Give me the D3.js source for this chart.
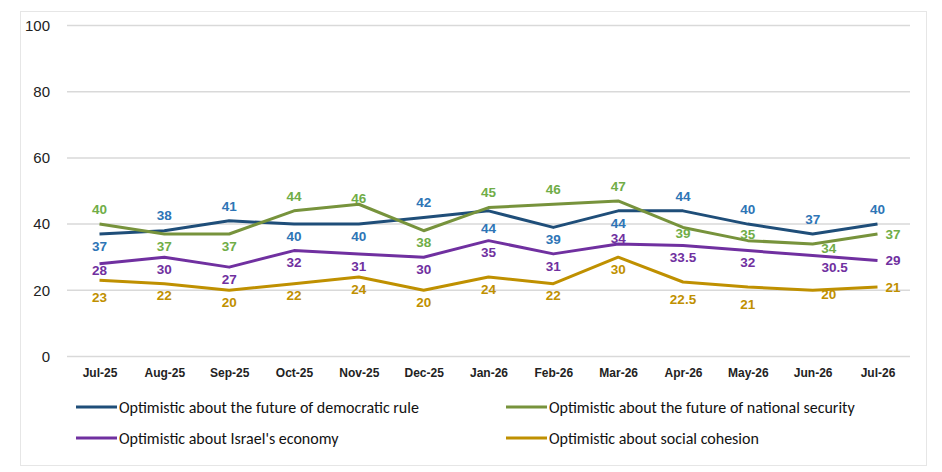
<!DOCTYPE html>
<html>
<head>
<meta charset="utf-8">
<script src="https://cdn.jsdelivr.net/npm/d3@7"></script>
<style>
  body { margin: 0; background: #fff; }
  text { font-family: Calibri, Carlito, "Liberation Sans Narrow", "Liberation Sans", sans-serif; }
</style>
</head>
<body>
<div id="chart"></div>
<script>
const months = ["Jul-25","Aug-25","Sep-25","Oct-25","Nov-25","Dec-25","Jan-26","Feb-26","Mar-26","Apr-26","May-26","Jun-26","Jul-26"];
const yTicks = [0, 20, 40, 60, 80, 100];

const democracy = [37, 38, 41, 40, 40, 42, 44, 39, 44, 44, 40, 37, 40];
const security  = [40, 37, 37, 44, 46, 38, 45, 46, 47, 39, 35, 34, 37];
const economy   = [28, 30, 27, 32, 31, 30, 35, 31, 34, 33.5, 32, 30.5, 29];
const cohesion  = [23, 22, 20, 22, 24, 20, 24, 22, 30, 22.5, 21, 20, 21];

// label placement per point (as the labels sit in the original):
// a above, o on the line, s just below, b below, d further below,
// e below-right, f below further right, r right of the point
const democracyPos = ["b","a","a","b","b","a","d","b","b","a","a","a","a"];
const securityPos  = ["a","b","b","a","o","b","a","a","a","s","o","e","r"];
const economyPos   = ["s","b","b","b","b","b","b","b","o","b","b","f","r"];
const cohesionPos  = ["d","b","b","b","b","b","b","b","b","d","d","e","r"];

const placement = {
  a: [0, -15], o: [0, -6], s: [0, 6], b: [0, 12], d: [0, 17],
  e: [16, 4], f: [22, 12], r: [8, 0]
};

const seriesNames = [
  "Optimistic about the future of democratic rule",
  "Optimistic about the future of national security",
  "Optimistic about Israel's economy",
  "Optimistic about social cohesion"
];

const series = [
  {name: seriesNames[0], values: democracy, pos: democracyPos, line: "#1F4E79", label: "#2E75B6"},
  {name: seriesNames[1], values: security,  pos: securityPos,  line: "#77933C", label: "#70AD47"},
  {name: seriesNames[2], values: economy,   pos: economyPos,   line: "#7030A0", label: "#7030A0"},
  {name: seriesNames[3], values: cohesion,  pos: cohesionPos,  line: "#BF9000", label: "#BF9000"}
];

function makeChart() {
  const w = 942, h = 472;
  const svg = d3.select("#chart").append("svg")
    .attr("width", w).attr("height", h);

  svg.append("rect")
    .attr("x", 20.5).attr("y", 11.5)
    .attr("width", 906).attr("height", 454)
    .attr("fill", "#fff").attr("stroke", "#E6E6E6");

  const x = d3.scalePoint().domain(months).range([99.5, 877.5]);
  const y = d3.scaleLinear().domain([0, 100]).range([356.5, 25.5]);

  // gridlines
  svg.append("g").selectAll("line").data(yTicks).enter().append("line")
    .attr("x1", 67).attr("x2", 910)
    .attr("y1", d => y(d)).attr("y2", d => y(d))
    .attr("stroke", "#D9D9D9").attr("stroke-width", 1.5);

  const yAxis = d3.axisLeft(y).tickValues(yTicks).tickSize(0).tickPadding(0);
  const yg = svg.append("g").attr("transform", "translate(50,0)").call(yAxis);
  yg.select(".domain").remove();
  yg.selectAll("text").attr("fill", "#222")
    .style("font-family", "'Liberation Sans', sans-serif").style("font-size", "15px");

  const xAxis = d3.axisBottom(x).tickSize(0).tickPadding(0);
  const xg = svg.append("g").attr("transform", "translate(0,368)").call(xAxis);
  xg.select(".domain").remove();
  xg.selectAll("text").attr("fill", "#222").attr("font-weight", "bold")
    .style("font-family", "'Liberation Sans', sans-serif").style("font-size", "12px");

  const line = d3.line().x((d, i) => x(months[i])).y(d => y(d));

  series.forEach(s => {
    svg.append("path")
      .datum(s.values)
      .attr("d", line)
      .attr("fill", "none")
      .attr("stroke", s.line)
      .attr("stroke-width", 3)
      .attr("stroke-linejoin", "round");
  });

  series.forEach(s => {
    svg.append("g").selectAll("text").data(s.values).enter().append("text")
      .attr("x", (d, i) => x(months[i]) + placement[s.pos[i]][0])
      .attr("y", (d, i) => y(d) + placement[s.pos[i]][1])
      .attr("dy", "0.35em")
      .attr("text-anchor", (d, i) => s.pos[i] === "r" ? "start" : "middle")
      .attr("fill", s.label)
      .attr("font-weight", "bold")
      .style("font-family", "'Liberation Sans', sans-serif")
      .style("font-size", "13.5px")
      .text(d => d);
  });

  // legend
  const legendX = [76, 506];
  const legendY = [407, 438];
  series.forEach((s, i) => {
    const lx = legendX[i % 2], ly = legendY[Math.floor(i / 2)];
    const g = svg.append("g").attr("transform", `translate(${lx},${ly})`);
    g.append("line").attr("x1", 0).attr("x2", 41).attr("y1", 0).attr("y2", 0)
      .attr("stroke", s.line).attr("stroke-width", 3);
    g.append("text").attr("x", 43).attr("y", 0).attr("dy", "0.35em")
      .attr("fill", "#111")
      .style("font-size", "16px")
      .text(s.name);
  });
}

window.onload = () => { makeChart(); };
</script>
</body>
</html>
